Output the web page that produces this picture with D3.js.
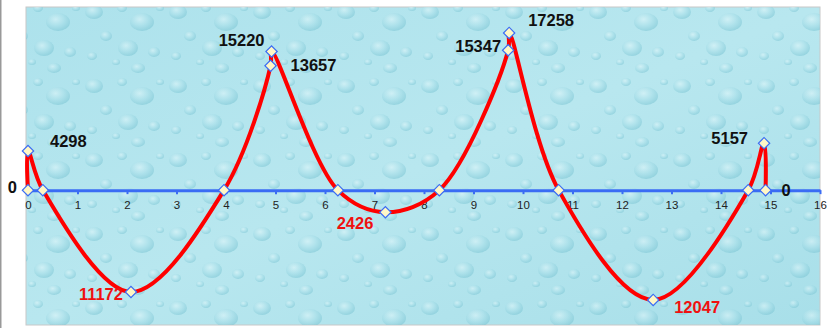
<!DOCTYPE html>
<html>
<head>
<meta charset="utf-8">
<script src="https://cdn.jsdelivr.net/npm/d3@7"></script>
<style>
  body { margin: 0; background: #fff; }
  svg { display: block; font-family: "Liberation Sans", Arial, sans-serif; }
</style>
</head>
<body>
<script>
// data, in drawing order
var pointX = [0, 0, 0.3, 2.08, 3.96, 4.9, 4.92, 6.26, 7.22, 8.31, 9.7, 9.72, 10.72, 12.63, 14.55, 14.87, 14.9];
var pointY = [0, 4298, 0, -11172, 0, 13657, 15220, 0, -2426, 0, 15347, 17258, 0, -12047, 0, 5157, 0];
var pointLabels = ["0", "4298", "", "11172", "", "13657", "15220", "", "2426", "", "15347", "17258", "", "12047", "", "5157", "0"];
var xTicks = [0, 1, 2, 3, 4, 5, 6, 7, 8, 9, 10, 11, 12, 13, 14, 15, 16];

// where each label sits relative to its point
var labelPlace = [
  {dx: -11, dy: 3, anchor: "end"},
  {dx: 22, dy: -4, anchor: "start"},
  null,
  {dx: -8, dy: 8, anchor: "end"},
  null,
  {dx: 20, dy: 5, anchor: "start"},
  {dx: -7, dy: -5, anchor: "end"},
  null,
  {dx: -12, dy: 17, anchor: "end"},
  null,
  {dx: -7, dy: 2, anchor: "end"},
  {dx: 19, dy: -7, anchor: "start"},
  null,
  {dx: 21, dy: 13, anchor: "start"},
  null,
  {dx: -16, dy: 1, anchor: "end"},
  {dx: 16, dy: 6, anchor: "start"}
];

var W = 829, H = 328;
var plot = {left: 26, top: 7, right: 820, bottom: 325};

var svg = d3.select("body").append("svg")
    .attr("width", W)
    .attr("height", H);

//---------water drop background-----------//
var defs = svg.append("defs");

var drop = defs.append("radialGradient")
    .attr("id", "drop")
    .attr("cx", "40%").attr("cy", "35%").attr("r", "65%");
drop.append("stop").attr("offset", "0%").attr("stop-color", "#e8fafc");
drop.append("stop").attr("offset", "55%").attr("stop-color", "#a9dfe9");
drop.append("stop").attr("offset", "100%").attr("stop-color", "#78c3d2");

var bg = defs.append("linearGradient")
    .attr("id", "bg")
    .attr("x1", 0).attr("y1", 0).attr("x2", 1).attr("y2", 1);
bg.append("stop").attr("offset", "0%").attr("stop-color", "#ade2ec");
bg.append("stop").attr("offset", "50%").attr("stop-color", "#b8e7ef");
bg.append("stop").attr("offset", "100%").attr("stop-color", "#a8dfe9");

// one tile of drops, repeated
var tile = [
  [10, 12, 9, 7], [38, 8, 5, 4], [58, 22, 12, 9], [22, 36, 6, 5],
  [44, 48, 10, 8], [8, 56, 5, 4], [70, 52, 6, 5], [32, 62, 4, 3],
  [76, 8, 4, 3], [54, 68, 7, 5]
];
var pat = defs.append("pattern")
    .attr("id", "drops")
    .attr("patternUnits", "userSpaceOnUse")
    .attr("width", 84).attr("height", 74);
pat.selectAll("ellipse")
    .data(tile)
    .enter().append("ellipse")
    .attr("cx", function(d) { return d[0]; })
    .attr("cy", function(d) { return d[1]; })
    .attr("rx", function(d) { return d[2]; })
    .attr("ry", function(d) { return d[3]; })
    .attr("fill", "url(#drop)")
    .attr("opacity", 0.5);

// left edge line of the picture
svg.append("rect")
    .attr("x", 0).attr("y", 0)
    .attr("width", 1.5).attr("height", H)
    .attr("fill", "#999");

svg.append("rect")
    .attr("x", plot.left).attr("y", plot.top)
    .attr("width", plot.right - plot.left)
    .attr("height", plot.bottom - plot.top)
    .attr("fill", "url(#bg)")
    .attr("stroke", "#c8c8c8")
    .attr("stroke-width", 1);
svg.append("rect")
    .attr("x", plot.left).attr("y", plot.top)
    .attr("width", plot.right - plot.left)
    .attr("height", plot.bottom - plot.top)
    .attr("fill", "url(#drops)");

//---------scales-----------//
var x = d3.scaleLinear()
    .domain([0, 16])
    .range([28, 820]);

var y = d3.scaleLinear()
    .domain([-14800, 20100])
    .range([plot.bottom, plot.top]);

// x-axis on the zero line
var xAxis = d3.axisBottom(x)
    .tickValues(xTicks)
    .tickFormat(d3.format("d"))
    .tickSize(4)
    .tickSizeOuter(0)
    .tickPadding(7);

var ax = svg.append("g")
    .attr("transform", "translate(0," + y(0) + ")")
    .call(xAxis);
ax.select(".domain")
    .attr("stroke", "#3a6cf4")
    .attr("stroke-width", 3);
ax.selectAll(".tick line")
    .attr("stroke", "#3a6cf4")
    .attr("stroke-width", 2);
ax.selectAll(".tick text")
    .attr("fill", "#222")
    .style("font-size", "11.5px")
    .style("font-family", "'Liberation Sans', Arial, sans-serif");

//---------the curve-----------//
var pts = pointX.map(function(v, i) { return [v, pointY[i]]; });

var line = d3.line()
    .curve(d3.curveCatmullRom.alpha(0.5))
    .x(function(d) { return x(d[0]); })
    .y(function(d) { return y(d[1]); });

svg.append("path")
    .datum(pts)
    .attr("d", line)
    .attr("fill", "none")
    .attr("stroke", "#ff0000")
    .attr("stroke-width", 4)
    .attr("stroke-linejoin", "round");

// diamond markers
var diamond = d3.symbol().type(d3.symbolSquare).size(64);
svg.selectAll(".pt")
    .data(pts)
    .enter().append("path")
    .attr("class", "pt")
    .attr("d", diamond)
    .attr("transform", function(d) {
        return "translate(" + x(d[0]) + "," + y(d[1]) + ") rotate(45)";
    })
    .attr("fill", "#fff7c6")
    .attr("stroke", "#3a6cf4")
    .attr("stroke-width", 1.2);

// value labels
var lbls = [];
pts.forEach(function(d, i) {
    if (pointLabels[i] !== "") lbls.push({p: d, t: pointLabels[i], pl: labelPlace[i]});
});

svg.selectAll(".lbl")
    .data(lbls)
    .enter().append("text")
    .attr("class", "lbl")
    .attr("x", function(d) { return x(d.p[0]) + d.pl.dx; })
    .attr("y", function(d) { return y(d.p[1]) + d.pl.dy; })
    .attr("text-anchor", function(d) { return d.pl.anchor; })
    .attr("fill", function(d) { return d.p[1] < 0 ? "#f01010" : "#111"; })
    .style("font-size", "16.5px")
    .style("font-weight", "bold")
    .text(function(d) { return d.t; });
</script>
</body>
</html>
